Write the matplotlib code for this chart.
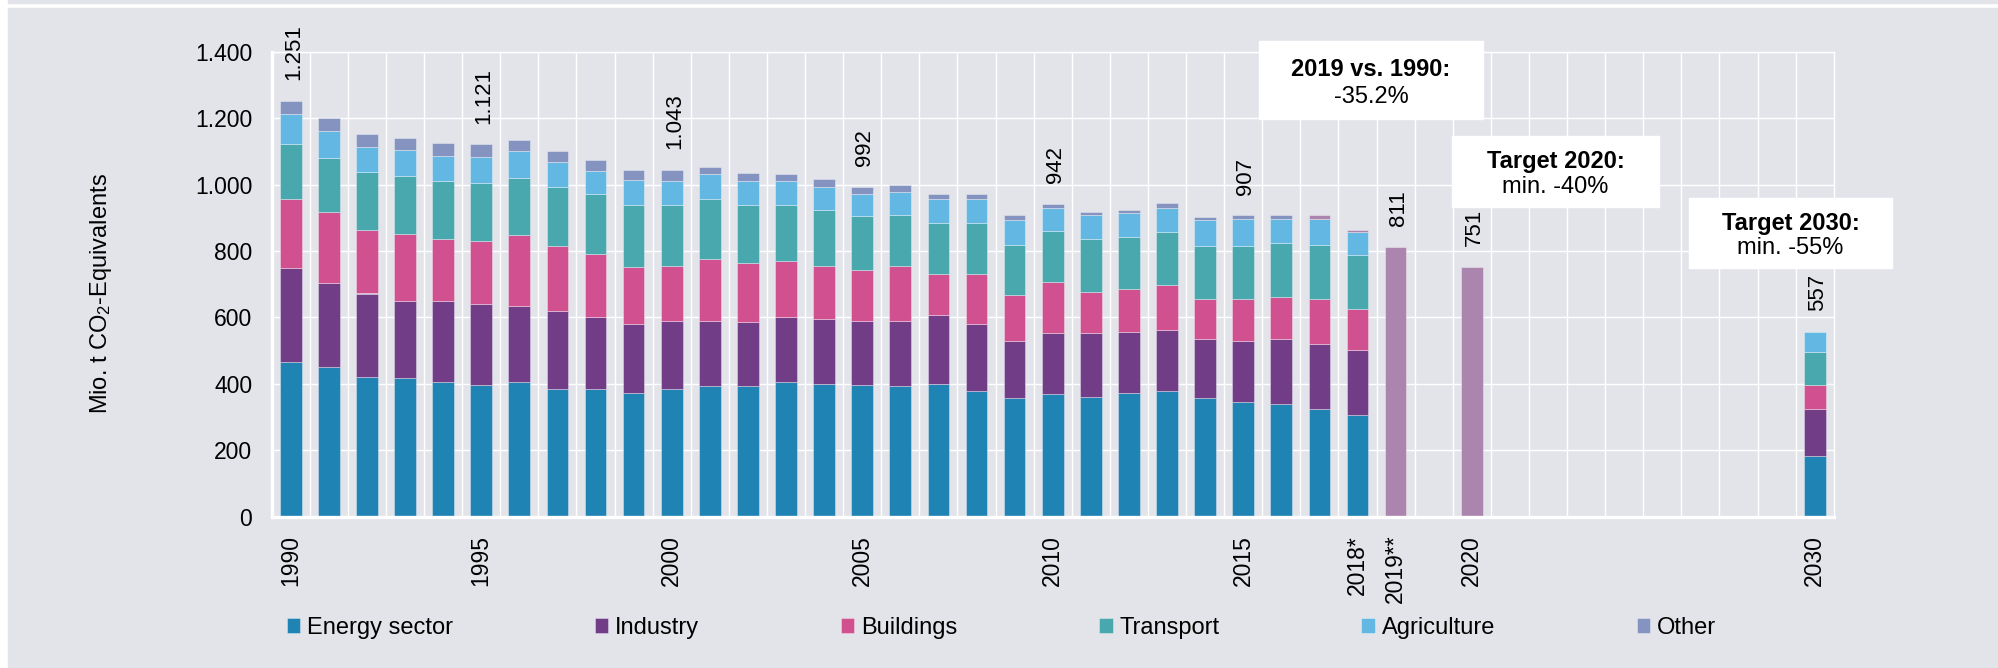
import matplotlib.pyplot as plt
from matplotlib.patches import Rectangle
import numpy as np

plt.rcParams['font.family'] = ['Liberation Sans', 'DejaVu Sans']
plt.rcParams['mathtext.default'] = 'regular'

# x slots, empty strings are gaps in the axis
slots = [str(y) for y in range(1990, 2018)] + ['2018*', '2019**', '', '2020'] + [''] * 8 + ['2030']
shown = ['1990', '1995', '2000', '2005', '2010', '2015', '2018*', '2019**', '2020', '2030']

# emissions by sector 1990 - 2018 (Mio. t CO2-eq.)
energy = [466, 450, 421, 417, 405, 396, 405, 384, 384, 373, 385, 394, 394, 405, 400, 398,
          394, 400, 378, 356, 369, 361, 372, 378, 356, 344, 340, 324, 307]
industry = [284, 254, 251, 231, 243, 244, 228, 234, 216, 206, 205, 195, 191, 195, 195, 191,
            195, 206, 201, 174, 185, 191, 185, 185, 180, 185, 196, 195, 196]
buildings = [208, 212, 190, 203, 187, 191, 214, 196, 192, 174, 164, 186, 179, 170, 159, 153,
             165, 126, 153, 136, 153, 125, 130, 135, 119, 125, 124, 136, 121]
transport = [163, 163, 175, 174, 175, 175, 172, 178, 179, 185, 185, 181, 174, 168, 169, 163,
             153, 151, 151, 151, 152, 158, 154, 159, 159, 162, 163, 162, 164]
agriculture = [92, 83, 77, 78, 76, 76, 83, 77, 71, 77, 72, 75, 72, 72, 71, 66,
               70, 74, 74, 75, 71, 73, 72, 72, 78, 79, 73, 79, 68]
other = [38, 39, 37, 37, 39, 39, 33, 33, 33, 28, 32, 21, 26, 22, 22, 21,
         22, 16, 16, 15, 12, 10, 11, 16, 10, 12, 12, 12, 6]

# single totals for 2019 estimate and 2020 target
single_years = ['2019**', '2020']
single_totals = [811, 751]

# 2030 target split (energy, industry, buildings, transport, agriculture)
target_2030 = [183, 142, 72, 98, 62]

labelled = ['1990', '1995', '2000', '2005', '2010', '2015']

names = ['Energy sector', 'Industry', 'Buildings', 'Transport', 'Agriculture', 'Other']
colors = ['#1F83B4', '#713D87', '#D05090', '#48A8AD', '#62B8E3', '#8593C0']
mauve = '#AC85AE'
bg = '#E3E4EA'


def fmt(v):
    return f'{int(round(v)):,}'.replace(',', '.')


W, H = 1999, 668
fig = plt.figure(figsize=(W / 100, H / 100), dpi=100)
fig.patches.append(Rectangle((8 / W, 0), 1, 1 - 8 / H, transform=fig.transFigure,
                             color=bg, zorder=-10))
fig.patches.append(Rectangle((8 / W, 1 - 3 / H), 1, 3 / H, transform=fig.transFigure,
                             color=bg, zorder=-10))

ax = fig.add_axes([271.7 / W, 1 - 516.7 / H, (1833.7 - 271.7) / W, (516.7 - 51.7) / H])
ax.set_facecolor(bg)
ax.set_axisbelow(True)

bw = 0.57
edge = dict(edgecolor=(1, 1, 1, 0.35), linewidth=0.7)

x = np.arange(len(energy))
other_cols = [colors[5]] * 27 + [mauve] * 2
bottom = np.zeros(len(energy))
for vals, col, name in zip([energy, industry, buildings, transport, agriculture, other],
                           colors[:5] + [other_cols], names):
    ax.bar(x, vals, bw, bottom=bottom, color=col, label=name, **edge)
    bottom += np.array(vals)

# 2019 / 2020
xs = [slots.index(s) for s in single_years]
ax.bar(xs, single_totals, bw, color=mauve, **edge)

# 2030
x30 = slots.index('2030')
b = 0
for v, col in zip(target_2030, colors[:5]):
    ax.bar(x30, v, bw, bottom=b, color=col, **edge)
    b += v

# total labels
lab = [(slots.index(y), bottom[slots.index(y)]) for y in labelled]
lab += list(zip(xs, single_totals))
lab.append((x30, sum(target_2030)))
for xi, tot in lab:
    ax.annotate(fmt(tot), (xi, tot), xytext=(2, 15), textcoords='offset points',
                rotation=90, ha='center', va='bottom', fontsize=16)

ax.set_xlim(-0.5, len(slots) - 0.5)
ax.set_ylim(0, 1400)
ax.set_yticks(range(0, 1401, 200))
ax.set_yticklabels([fmt(v) for v in range(0, 1401, 200)])
ax.set_xticks([slots.index(s) for s in shown])
ax.set_xticklabels(shown, rotation=90)
ax.set_xticks(np.arange(0.5, len(slots) - 1, 1), minor=True)
ax.tick_params(axis='both', which='both', length=0, labelsize=16.5)
ax.tick_params(axis='y', pad=14)
ax.tick_params(axis='x', pad=13)
ax.grid(which='minor', axis='x', color='white', linewidth=1.0)
ax.grid(which='major', axis='y', color='white', linewidth=1.0)
ax.grid(which='major', axis='x', visible=False)

for s in ['left', 'bottom']:
    ax.spines[s].set_color('white')
    ax.spines[s].set_linewidth(2.4)
for s in ['top', 'right']:
    ax.spines[s].set_color('white')
    ax.spines[s].set_linewidth(1.0)

ax.set_ylabel('Mio. t CO$_2$-Equivalents', fontsize=17)
ax.yaxis.set_label_coords((114 - 271.7) / (1833.7 - 271.7), (516.7 - 294) / 465)

# target boxes (pixel boxes: left, top, right, bottom)
boxes = [((1259, 41, 1483, 119), '2019 vs. 1990:', '-35.2%'),
         ((1452, 136, 1659, 207), 'Target 2020:', 'min. -40%'),
         ((1689, 198, 1892, 268), 'Target 2030:', 'min. -55%')]
for (l, t, r, bt), head, val in boxes:
    fig.patches.append(Rectangle((l / W, 1 - bt / H), (r - l) / W, (bt - t) / H,
                                 transform=fig.transFigure, color='white', zorder=5))
    cx = (l + r) / 2 / W
    fig.text(cx, 1 - (t + 0.36 * (bt - t)) / H, head, ha='center', va='center',
             fontsize=17, fontweight='bold', zorder=6)
    fig.text(cx, 1 - (t + 0.72 * (bt - t)) / H, val, ha='center', va='center',
             fontsize=17, zorder=6)

handles, labels = ax.get_legend_handles_labels()
fig.legend(handles, labels, ncol=6, loc='center left', bbox_to_anchor=(287 / W, 1 - 628 / H),
           frameon=False, fontsize=17, handlelength=0.56, handleheight=0.56,
           handletextpad=0.3, columnspacing=6.0, borderpad=0, borderaxespad=0)

fig.savefig('out.png', dpi=100, facecolor='white')
